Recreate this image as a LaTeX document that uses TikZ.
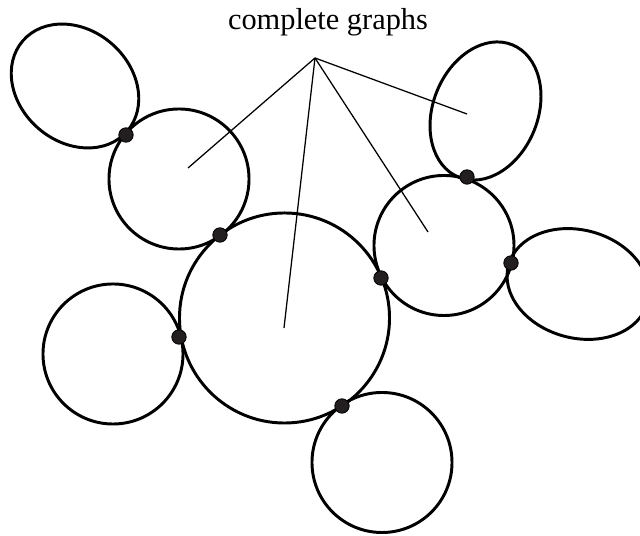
\documentclass[tikz,border=0pt]{standalone}
\usepackage{fontspec}
\setmainfont{Liberation Serif}
\usepackage{tikz}
\usetikzlibrary{shapes.geometric}
\definecolor{cgdot}{HTML}{231F20}

\begin{document}
\begin{tikzpicture}[x=0.025cm, y=-0.025cm,
        blob/.style={draw, circle, line width=2.1pt, inner sep=0pt},
        oval/.style={draw, ellipse, line width=2.1pt, inner sep=0pt},
        cut/.style={draw, circle, fill=cgdot, line width=0.6pt, minimum size=0.36cm, inner sep=0pt},
        pointer/.style={line width=0.9pt}]
        \useasboundingbox (0,0) rectangle (640,536);
        \node[blob, minimum size=5.25cm] (big) at (284.5,318) {};
        \node[blob, minimum size=3.5cm] (ul) at (179,179) {};
        \node[blob, minimum size=3.5cm] (lt) at (113,354) {};
        \node[blob, minimum size=3.5cm] (rt) at (444,245.5) {};
        \node[blob, minimum size=3.5cm] (bt) at (382,462.5) {};
        \node[oval, minimum width=3.45cm, minimum height=2.8cm, rotate=-41] (eul) at (75,86) {};
        \node[oval, minimum width=3.57cm, minimum height=2.62cm, rotate=68] (eur) at (485.5,111) {};
        \node[oval, minimum width=3.6cm, minimum height=2.7cm, rotate=-15] (er) at (578,284) {};
        \node[font=\fontsize{21.6}{26}\selectfont, anchor=base] (title) at (328,30) {complete graphs};
        \coordinate (apex) at (315,58);
        \coordinate (aul) at (188,168);
        \coordinate (abig) at (284,328);
        \coordinate (art) at (428,232);
        \coordinate (aeur) at (467,114);
        \draw[pointer] (apex) -- (aul);
        \draw[pointer] (apex) -- (abig);
        \draw[pointer] (apex) -- (art);
        \draw[pointer] (apex) -- (aeur);
        \node[cut] (c1) at (126,135) {};
        \node[cut] (c2) at (220,235) {};
        \node[cut] (c3) at (179,337) {};
        \node[cut] (c4) at (381,278) {};
        \node[cut] (c5) at (342,406) {};
        \node[cut] (c6) at (467,177) {};
        \node[cut] (c7) at (511,263) {};
      \end{tikzpicture}
\end{document}
